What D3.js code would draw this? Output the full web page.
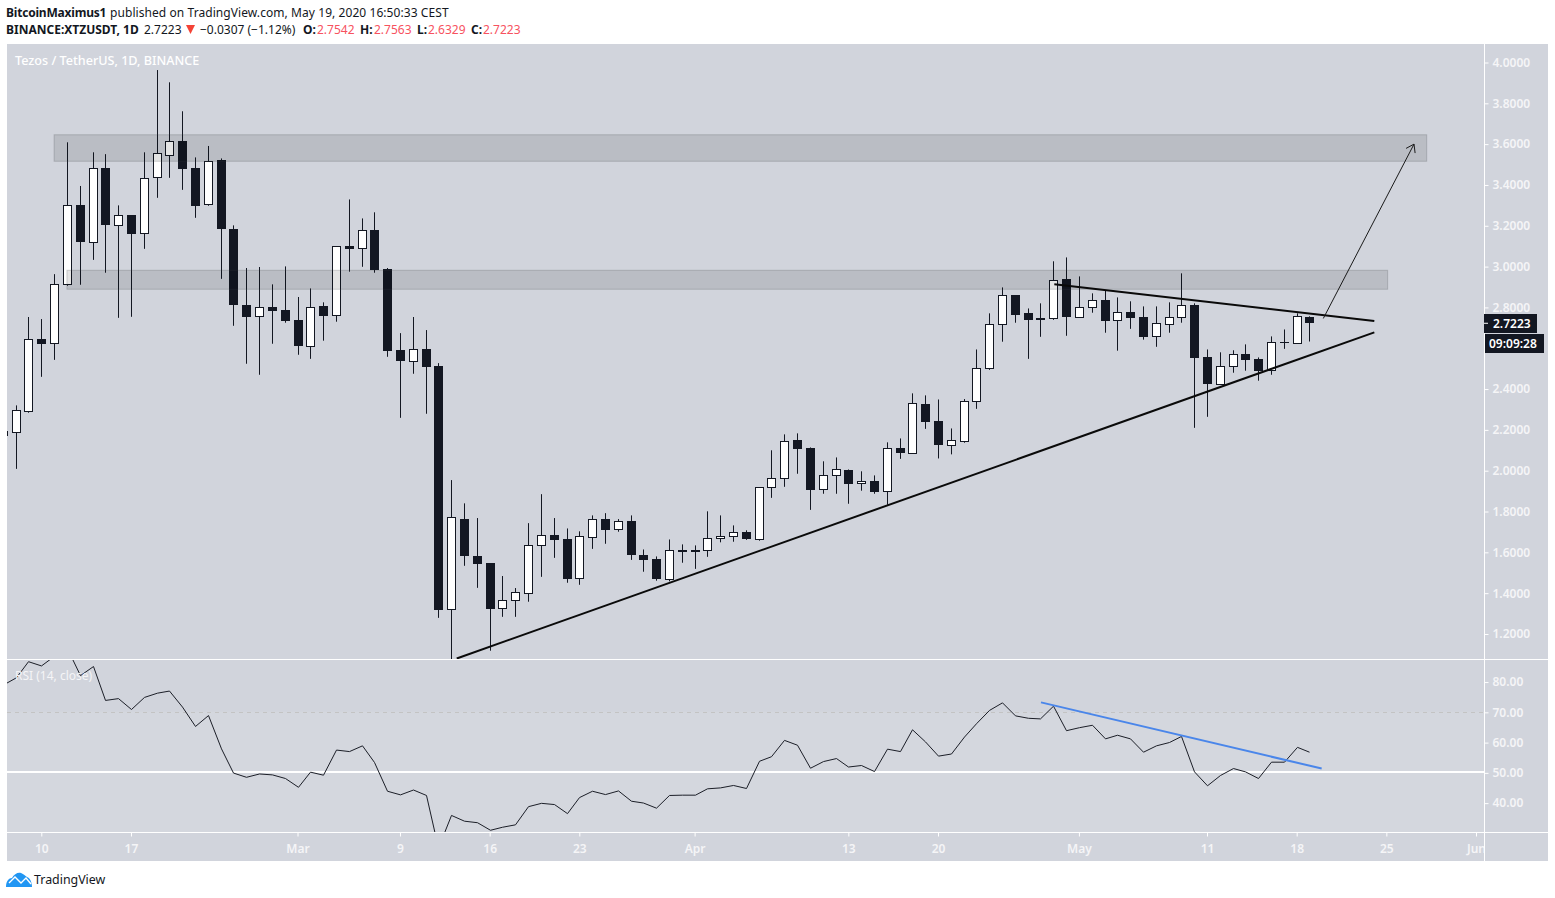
<!DOCTYPE html>
<html><head><meta charset="utf-8">
<style>
html,body{margin:0;padding:0;background:#fff;overflow:hidden}
svg{display:block}
text{font-family:"Noto Sans",sans-serif;font-size:12px}
.axis text{fill:#f5f5f7;font-size:12px;font-weight:600}
.axis line{stroke:#fff}
.axis path{display:none}
</style>
<script src="https://cdn.jsdelivr.net/npm/d3@7/dist/d3.min.js"></script>
</head><body><svg id="c" width="1555" height="898"></svg>
<script>
// day numbers count from 10 Feb 2020 = 0; the first candle is 7 Feb
const firstDay = -3;
const opens = [2.194,2.191,2.294,2.645,2.624,2.913,3.300,3.119,3.481,3.205,3.251,3.163,3.437,3.545,3.614,3.481,3.305,3.521,3.182,2.811,2.756,2.800,2.785,2.738,2.612,2.805,2.761,3.099,3.089,3.178,2.986,2.591,2.539,2.594,2.513,1.320,1.763,1.582,1.546,1.325,1.365,1.399,1.634,1.683,1.663,1.472,1.676,1.761,1.712,1.756,1.587,1.565,1.467,1.610,1.610,1.610,1.668,1.678,1.698,1.663,1.918,1.962,2.149,2.109,1.908,1.977,2.001,1.938,1.948,1.899,2.109,2.085,2.325,2.242,2.124,2.147,2.340,2.501,2.717,2.859,2.771,2.746,2.746,2.937,2.751,2.800,2.835,2.737,2.776,2.751,2.658,2.717,2.751,2.810,2.555,2.423,2.511,2.570,2.545,2.492,2.629,2.624,2.7542];
const highs = [2.200,2.320,2.753,2.743,2.963,3.609,3.395,3.560,3.551,3.300,3.251,3.560,3.963,3.903,3.761,3.535,3.591,3.530,3.202,2.993,2.998,2.913,3.001,2.851,2.893,2.825,3.099,3.329,3.236,3.266,2.993,2.674,2.753,2.689,2.527,1.954,1.840,1.768,1.546,1.484,1.425,1.743,1.885,1.768,1.717,1.703,1.781,1.792,1.763,1.781,1.614,1.580,1.663,1.639,1.634,1.801,1.781,1.732,1.708,1.918,2.100,2.178,2.183,2.114,2.046,2.065,2.006,1.997,1.977,2.139,2.158,2.379,2.369,2.349,2.207,2.351,2.594,2.771,2.898,2.859,2.795,2.820,3.026,3.045,2.952,2.869,2.884,2.849,2.830,2.805,2.805,2.825,2.967,2.820,2.594,2.580,2.590,2.619,2.555,2.658,2.692,2.771,2.7563];
const lows = [2.150,2.009,2.284,2.460,2.543,2.906,2.911,3.033,2.970,2.749,2.754,3.087,3.337,3.435,3.376,3.239,3.298,2.940,2.710,2.524,2.470,2.622,2.725,2.568,2.548,2.637,2.730,2.975,2.999,2.970,2.558,2.259,2.475,2.279,1.279,1.060,1.534,1.426,1.118,1.284,1.284,1.358,1.480,1.573,1.451,1.441,1.617,1.642,1.701,1.563,1.505,1.461,1.458,1.549,1.519,1.578,1.649,1.652,1.661,1.657,1.867,1.921,1.985,1.808,1.887,1.887,1.838,1.902,1.887,1.833,2.058,2.085,2.205,2.060,2.080,2.137,2.303,2.494,2.632,2.725,2.548,2.656,2.739,2.661,2.751,2.774,2.676,2.588,2.695,2.642,2.607,2.676,2.725,2.210,2.264,2.423,2.480,2.490,2.441,2.470,2.597,2.624,2.6329];
const closes = [2.170,2.295,2.643,2.622,2.913,3.300,3.122,3.481,3.205,3.251,3.161,3.432,3.555,3.614,3.479,3.298,3.519,3.185,2.813,2.754,2.800,2.784,2.735,2.612,2.800,2.759,3.099,3.087,3.178,2.984,2.588,2.539,2.594,2.509,1.319,1.771,1.583,1.544,1.323,1.365,1.404,1.634,1.683,1.661,1.470,1.678,1.761,1.710,1.756,1.588,1.563,1.470,1.610,1.610,1.611,1.668,1.678,1.698,1.666,1.918,1.962,2.144,2.107,1.906,1.977,2.006,1.936,1.948,1.897,2.109,2.088,2.330,2.240,2.127,2.149,2.340,2.501,2.717,2.859,2.764,2.739,2.739,2.935,2.754,2.800,2.835,2.735,2.776,2.749,2.656,2.722,2.751,2.810,2.553,2.426,2.511,2.570,2.543,2.490,2.629,2.624,2.756,2.7223];
const rsiValues = [78.8,81.2,86.5,85.1,88.3,90.8,81.9,84.9,73.7,74.3,70.7,74.7,76.1,76.8,71.5,65.1,68.7,57.7,49.7,48.3,49.4,49.1,47.9,45.0,50.0,49.0,57.3,56.8,58.7,53.2,43.7,42.5,44.1,42.3,24.9,35.7,33.8,33.3,30.8,31.8,32.6,38.6,39.7,39.3,36.3,41.6,43.7,42.6,43.8,40.4,39.8,38.1,42.3,42.4,42.4,44.5,44.8,45.6,44.6,53.6,55.1,60.5,58.9,51.3,53.5,54.5,51.7,52.2,50.2,57.6,56.8,64.0,60.0,55.3,56.0,61.6,66.0,70.4,72.9,68.6,67.8,67.6,71.8,63.7,64.7,65.5,61.0,62.2,61.0,56.6,58.7,59.8,61.8,50.1,45.5,48.9,51.2,50.1,47.9,53.3,53.3,58.2,56.6];
const priceTicks = [4.0,3.8,3.6,3.4,3.2,3.0,2.8,2.4,2.2,2.0,1.8,1.6,1.4,1.2];
const rsiTicks = [80,70,60,50,40];
const dateTicks = [0,7,20,28,35,42,51,63,70,81,91,98,105,112];
const dateLabels = ["10","17","Mar","9","16","23","Apr","13","20","May","11","18","25","Jun"];
// zones: [first day, last day, top price, bottom price]
const zones = [[1,108.15,3.646,3.516],[2,105.1,2.982,2.889]];
// trend lines: [day, price, day, price]
const supportLine = [32.43,1.080,104.06,2.678];
const resistanceLine = [79.08,2.914,104.06,2.733];
const targetArrow = [100.08,2.746,107.16,3.600];
const rsiTrend = [78.04,73.06,99.95,51.2];
const lastPrice = 2.7223;
const headerLine1 = "published on TradingView.com, May 19, 2020 16:50:33 CEST";

const DARK="#131722", BG="#d1d4dc";
const svg=d3.select("#c");
const x=d3.scaleLinear().domain([-3,112]).range([2.87,1476.02]);
const y=d3.scaleLinear().domain([1,4]).range([674.8,62.5]);
const r=d3.scaleLinear().domain([30,90]).range([832.7,651.1]);

const L=7,R=1548,T=44,B=861,AX=1484,P1=659.5,P2=832.5;
svg.append("rect").attr("x",L).attr("y",T).attr("width",R-L).attr("height",B-T).attr("fill",BG);

const defs=svg.append("defs");
defs.append("clipPath").attr("id","cp").append("rect").attr("x",L).attr("y",T).attr("width",AX-L).attr("height",P1-T);
defs.append("clipPath").attr("id","cr").append("rect").attr("x",L).attr("y",P1).attr("width",AX-L).attr("height",P2-P1);
defs.append("clipPath").attr("id","cx").append("rect").attr("x",0).attr("y",P2).attr("width",AX).attr("height",B-P2);

// price pane
const gp=svg.append("g").attr("clip-path","url(#cp)");
const idx=d3.range(opens.length);
const day=i=>firstDay+i;
const wx=i=>Math.round(x(day(i)))+0.5;
gp.append("g").selectAll("line").data(idx).join("line")
  .attr("x1",wx).attr("x2",wx)
  .attr("y1",i=>y(highs[i])).attr("y2",i=>y(lows[i]))
  .attr("stroke",DARK).attr("stroke-width",1);
gp.append("g").selectAll("rect").data(idx).join("rect")
  .each(function(i){
    const up=closes[i]>=opens[i];
    const top=Math.round(y(Math.max(opens[i],closes[i])));
    const bot=Math.round(y(Math.min(opens[i],closes[i])));
    const s=d3.select(this);
    if(up){
      s.attr("x",wx(i)-4).attr("width",8).attr("y",top+0.5).attr("height",Math.max(bot-top,1))
       .attr("fill","#fff").attr("stroke",DARK).attr("stroke-width",1);
    }else{
      s.attr("x",wx(i)-4.5).attr("width",9).attr("y",top).attr("height",Math.max(bot-top,1))
       .attr("fill",DARK);
    }
  });
gp.append("g").selectAll("rect").data(zones).join("rect")
  .attr("x",d=>x(d[0])).attr("width",d=>x(d[1])-x(d[0]))
  .attr("y",d=>y(d[2])).attr("height",d=>y(d[3])-y(d[2]))
  .attr("fill","rgba(0,0,0,0.105)").attr("stroke","rgba(60,62,70,0.22)").attr("stroke-width",1);
gp.selectAll("line.t").data([supportLine,resistanceLine]).join("line").attr("class","t")
  .attr("x1",d=>x(d[0])).attr("y1",d=>y(d[1])).attr("x2",d=>x(d[2])).attr("y2",d=>y(d[3]))
  .attr("stroke","#0a0a0a").attr("stroke-width",2);
// arrow
{
  const a=targetArrow,x1=x(a[0]),y1=y(a[1]),x2=x(a[2]),y2=y(a[3]);
  const ang=Math.atan2(y2-y1,x2-x1),h=9,w=0.6;
  const line=d3.line();
  gp.append("path").attr("d",line([[x1,y1],[x2,y2]])).attr("stroke","#1a1a1a").attr("fill","none").attr("stroke-width",1);
  gp.append("path").attr("d",line([[x2-h*Math.cos(ang-w),y2-h*Math.sin(ang-w)],[x2,y2],[x2-h*Math.cos(ang+w),y2-h*Math.sin(ang+w)]]))
    .attr("stroke","#1a1a1a").attr("fill","none").attr("stroke-width",1);
}

// rsi pane
const gr=svg.append("g").attr("clip-path","url(#cr)");
gr.append("rect").attr("x",L).attr("width",AX-L).attr("y",r(70)).attr("height",r(30)-r(70)).attr("fill","rgba(255,255,255,0.07)");
gr.append("line").attr("x1",L).attr("x2",AX).attr("y1",Math.round(r(70))+0.5).attr("y2",Math.round(r(70))+0.5)
  .attr("stroke","#c3c3c3").attr("stroke-dasharray","4 4");
gr.append("line").attr("x1",L).attr("x2",AX).attr("y1",Math.floor(r(50))).attr("y2",Math.floor(r(50))).attr("stroke","#fff").attr("stroke-width",2);
gr.append("path").datum(rsiValues)
  .attr("d",d3.line().x((d,i)=>Math.round(x(day(i)))+0.5).y(d=>r(d)))
  .attr("fill","none").attr("stroke","#1b1e27").attr("stroke-width",1);
gr.append("line").attr("x1",x(rsiTrend[0])).attr("y1",r(rsiTrend[1])).attr("x2",x(rsiTrend[2])).attr("y2",r(rsiTrend[3]))
  .attr("stroke","#4a86ea").attr("stroke-width",2);

// separators
const sep=svg.append("g").attr("stroke","#fff").attr("stroke-width",1);
sep.append("line").attr("x1",L).attr("x2",R).attr("y1",P1).attr("y2",P1);
sep.append("line").attr("x1",L).attr("x2",R).attr("y1",P2).attr("y2",P2);
sep.append("line").attr("x1",AX+0.5).attr("x2",AX+0.5).attr("y1",T).attr("y2",B);

// axes
svg.append("g").attr("class","axis").attr("transform",`translate(${AX+0.5},0)`)
  .call(d3.axisRight(y).tickValues(priceTicks).tickFormat(d3.format(".4f")).tickSize(4).tickPadding(4));
svg.append("g").attr("class","axis").attr("transform",`translate(${AX+0.5},0.7)`)
  .call(d3.axisRight(r).tickValues(rsiTicks).tickFormat(d3.format(".2f")).tickSize(4).tickPadding(4));
svg.append("g").attr("clip-path","url(#cx)").append("g").attr("class","axis").attr("transform",`translate(0,${P2})`)
  .call(d3.axisBottom(x).tickValues(dateTicks).tickFormat((d,i)=>dateLabels[i]).tickSize(4).tickPadding(8));

// titles in panes
svg.append("text").attr("x",15).attr("y",64.5).attr("fill","#fff").attr("font-weight",500).style("font-size","12.6px").text("Tezos / TetherUS, 1D, BINANCE");
svg.append("text").attr("x",15).attr("y",680).attr("fill","#f5f5f7").text("RSI (14, close)");

// price labels
svg.append("rect").attr("x",AX).attr("y",314).attr("width",53).attr("height",19).attr("fill",DARK);
svg.append("line").attr("x1",AX).attr("x2",AX+4).attr("y1",y(lastPrice)).attr("y2",y(lastPrice)).attr("stroke","#fff");
svg.append("text").attr("x",1493).attr("y",y(lastPrice)+4.5).attr("fill","#fff").attr("font-weight",600).text(d3.format(".4f")(lastPrice));
svg.append("rect").attr("x",AX+1).attr("y",334).attr("width",59).attr("height",19).attr("fill",DARK);
svg.append("text").attr("x",1489).attr("y",348).attr("fill","#fff").attr("font-weight",600).text("09:09:28");

// header
const RED="#f7525f";
const hd=svg.append("g").attr("fill","#131722");
const put=(t,px,py,o={})=>hd.append("text").attr("x",px).attr("y",py).attr("font-weight",o.b?700:400).attr("fill",o.c||"#131722").style("letter-spacing",(o.s||0)+"px").text(t);
put("BitcoinMaximus1",6,17,{b:1,s:-0.2});
put(headerLine1,110,17,{s:0.07});
put("BINANCE:XTZUSDT, 1D",6,34,{b:1});
put("2.7223",144,34);
hd.append("path").attr("d",d3.line()([[186,25],[195,25],[190.5,34]])).attr("fill","#f44336");
put("−0.0307 (−1.12%)",200,34);
[["O:","2.7542",303,317],["H:","2.7563",360,374],["L:","2.6329",417,428],["C:","2.7223",471,483]].forEach(d=>{
  put(d[0],d[2],34,{b:1}); put(d[1],d[3],34,{c:RED});
});

// footer logo
const logo=svg.append("g");
logo.append("path").attr("fill","#2196f3")
  .attr("d","M6 887 C6 881 9 878 12 878 C14 874 18 872 21 873 C24 874 25 876 27 877 C30 878 32 882 32 887 Z");
logo.append("path").attr("fill","none").attr("stroke","#fff").attr("stroke-width",1.4)
  .attr("d","M9 883 L15 877 L21 883 L26 878 L31 884");
svg.append("text").attr("x",34).attr("y",884).attr("fill","#131722").style("font-size","12.4px").text("TradingView");
</script></body></html>
